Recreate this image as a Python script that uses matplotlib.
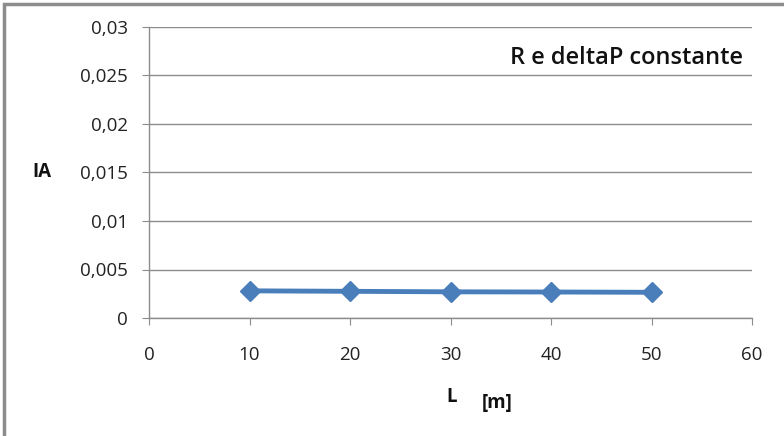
import matplotlib
matplotlib.use("Agg")
import matplotlib.pyplot as plt
from matplotlib.patches import Rectangle
from matplotlib.ticker import FuncFormatter

# Lunghezza L [m] e indice IA
L = [10, 20, 30, 40, 50]
IA = [0.0028, 0.00275, 0.0027, 0.00268, 0.00265]

x_ticks = [0, 10, 20, 30, 40, 50, 60]
y_ticks = [0, 0.005, 0.01, 0.015, 0.02, 0.025, 0.03]

plt.rcParams['font.family'] = ['Open Sans', 'DejaVu Sans']

W, H = 784, 436
fig = plt.figure(figsize=(W / 100, H / 100), dpi=100)
fig.patch.set_facecolor('white')

# chart frame (only top and left edges fall inside the canvas)
fig.patches.append(Rectangle((4 / W, -0.1), 1.2, 1 - 4 / H + 0.1,
                             transform=fig.transFigure, fill=False,
                             edgecolor='#8c8c8c', linewidth=2.5))

ax = fig.add_axes([149 / W, 1 - 318 / H, (752 - 149) / W, (318 - 27) / H])
ax.set_xlim(0, 60)
ax.set_ylim(0, 0.03)
ax.set_xticks(x_ticks)
ax.set_yticks(y_ticks)

ax.yaxis.set_major_formatter(FuncFormatter(
    lambda v, p: '0' if v == 0 else f'{v:g}'.replace('.', ',')))
ax.xaxis.set_major_formatter(FuncFormatter(lambda v, p: f'{v:g}'))

ax.grid(axis='y', color='#8c8c8c', linewidth=1.0)
ax.set_axisbelow(True)
for s in ['top', 'right']:
    ax.spines[s].set_visible(False)
for s in ['left', 'bottom']:
    ax.spines[s].set_color('#8c8c8c')
    ax.spines[s].set_linewidth(1.0)

ax.tick_params(axis='y', direction='out', length=5, color='#8c8c8c',
               labelsize=13.5, pad=10, labelcolor='#222222')
ax.tick_params(axis='x', direction='out', length=5, color='#8c8c8c',
               labelsize=13.5, pad=15, labelcolor='#222222')

ax.plot(L, IA, color='#4a7ebb', linewidth=3.5, marker='D', markersize=10,
        markerfacecolor='#4a7ebb', markeredgecolor='#4a7ebb', zorder=3)

ax.text(0.985, 0.895, 'R e deltaP constante', transform=ax.transAxes,
        ha='right', va='center', fontsize=17, fontweight='semibold',
        color='#111111')

fig.text(42 / W, 1 - 172 / H, 'IA', ha='center', va='center',
         fontsize=13.5, fontweight='bold', color='#111111')
fig.text(452 / W, 1 - 397 / H, 'L', ha='center', va='center',
         fontsize=13.5, fontweight='bold', color='#111111')
fig.text(497 / W, 1 - 403 / H, '[m]', ha='center', va='center',
         fontsize=13.5, fontweight='bold', color='#111111')

fig.savefig('out.png', dpi=100, facecolor='white')
